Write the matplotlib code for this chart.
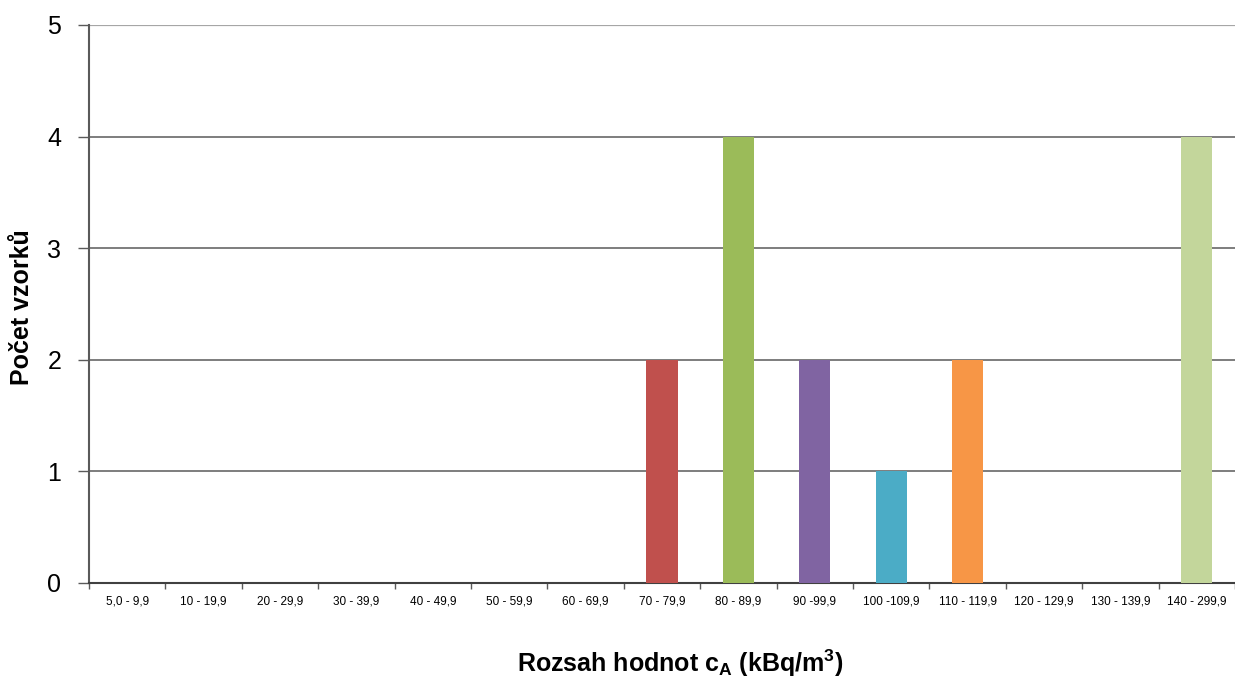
import numpy as np
import matplotlib.pyplot as plt

plt.rcParams['font.family'] = ['Liberation Sans', 'DejaVu Sans']
plt.rcParams['mathtext.fontset'] = 'custom'
plt.rcParams['mathtext.rm'] = 'Liberation Sans'
plt.rcParams['mathtext.bf'] = 'Liberation Sans:bold'

# data
categories = ['5,0 - 9,9', '10 - 19,9', '20 - 29,9', '30 - 39,9', '40 - 49,9',
              '50 - 59,9', '60 - 69,9', '70 - 79,9', '80 - 89,9', '90 -99,9',
              '100 -109,9', '110 - 119,9', '120 - 129,9', '130 - 139,9', '140 - 299,9']
counts = [0, 0, 0, 0, 0, 0, 0, 2, 4, 2, 1, 2, 0, 0, 4]
colors = ['#4F81BD'] * 7 + ['#C0504D', '#9BBB59', '#8064A2', '#4BACC6', '#F79646',
                            '#2C4D75', '#772C2A', '#C3D69B']

fig = plt.figure(figsize=(12.35, 6.81), dpi=100)
ax = fig.add_axes([89 / 1235, 1 - 583 / 681, 1 - 89 / 1235, (583 - 25) / 681])

x = np.arange(len(categories))
ax.bar(x, counts, width=0.41, color=colors, zorder=3)

ax.set_xlim(-0.5, len(categories) - 0.5)
ax.set_ylim(0, 5)

# gridlines
for y in [1, 2, 3, 4]:
    ax.axhline(y, color='#5a5a5a', lw=1.1, zorder=1)
ax.axhline(5, color='#a6a6a6', lw=1.6, zorder=1)

ax.set_yticks([0, 1, 2, 3, 4, 5])
ax.tick_params(axis='y', labelsize=18, length=8, width=1, color='#5a5a5a', pad=12)

ax.set_xticks(x)
ax.set_xticklabels(categories, fontsize=8.5)
ax.set_xticks(np.arange(-0.5, len(categories), 1), minor=True)
ax.tick_params(axis='x', which='major', length=0, pad=9)
ax.tick_params(axis='x', which='minor', length=4, width=1, color='#5a5a5a')

for s in ['top', 'right']:
    ax.spines[s].set_visible(False)
ax.spines['left'].set_color('#5a5a5a')
ax.spines['bottom'].set_color('#404040')
ax.spines['left'].set_linewidth(1.5)
ax.spines['bottom'].set_linewidth(1.5)

fig.text(22 / 1235, 1 - 307 / 681, 'Počet vzorků', fontsize=18, fontweight='bold',
         rotation=90, ha='center', va='center')
fig.text(680 / 1235, 1 - 663 / 681, r'Rozsah hodnot c$_\mathbf{A}$ (kBq/m$^\mathbf{3}$)',
         fontsize=18, fontweight='bold', ha='center', va='center')

fig.savefig('out.png', dpi=100)
